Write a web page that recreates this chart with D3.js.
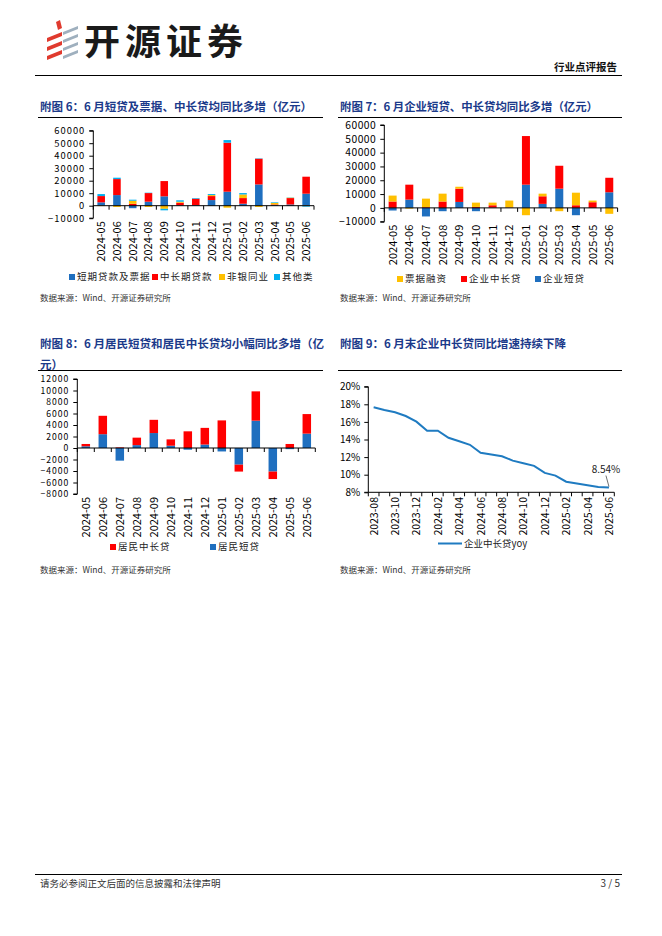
<!DOCTYPE html>
<html>
<head>
<meta charset="utf-8">
<script src="https://cdn.jsdelivr.net/npm/d3@7"></script>
<style>
body { margin: 0; background: #fff; }
text { font-family: "Noto Sans CJK SC", sans-serif; }
</style>
</head>
<body>
<script>
// months for the three bar charts
var months = ["2024-05","2024-06","2024-07","2024-08","2024-09","2024-10","2024-11","2024-12","2025-01","2025-02","2025-03","2025-04","2025-05","2025-06"];

// fig 6 (亿元)
var shortBill = [2700, 8500, -2000, 3200, 7500, 300, 500, 4500, 11200, 1600, 17000, 500, 1000, 9600];
var midLong = [5000, 12800, 1500, 6900, 12200, 2100, 5100, 3200, 39200, 4500, 20600, 500, 5100, 13600];
var nonBank = [-300, -1000, 2500, -1000, -2500, 800, 0, 800, -1600, 2900, -1000, 1200, 300, -300];
var others = [1600, 1100, 800, 300, -1200, 1100, 500, 800, 2100, 1100, 300, 500, 200, -500];

// fig 7
var corpShort = [-1900, 6000, -6200, -2400, 4300, -2400, 200, 100, 16800, 2900, 13900, -5300, -100, 11300];
var corpMid = [4600, 10800, 500, 4600, 9600, 700, 1700, 200, 35200, 5500, 16600, 1900, 4100, 10500];
var billFin = [4300, -500, 6200, 5700, 1400, 3100, 1900, 5000, -5300, 1900, -2400, 9100, 1200, -4300];

// fig 8
var hhShort = [300, 2400, -2200, 500, 2600, 400, -300, 600, -600, -2900, 4750, -4100, -200, 2500];
var hhMid = [400, 3200, 100, 1300, 2300, 1100, 2900, 2900, 4800, -1200, 5100, -1300, 700, 3400];

// fig 9
var yoyMonths = ["2023-08","2023-09","2023-10","2023-11","2023-12","2024-01","2024-02","2024-03","2024-04","2024-05","2024-06","2024-07","2024-08","2024-09","2024-10","2024-11","2024-12","2025-01","2025-02","2025-03","2025-04","2025-05","2025-06"];
var corpMidYoy = [17.66, 17.36, 17.09, 16.67, 16.03, 15.0, 15.0, 14.2, 13.8, 13.4, 12.5, 12.3, 12.1, 11.6, 11.3, 11.0, 10.2, 9.9, 9.2, 9.0, 8.8, 8.6, 8.54];

var BLUE = "#1F6FBF", RED = "#FF0000", YELLOW = "#FFC000", LBLUE = "#00B0F0";
var TITLE = "#1B3A8A";
var NUM = "Liberation Serif, Times New Roman, serif";

var svg = d3.select("body").append("svg")
    .attr("width", 662)
    .attr("height", 936);

svg.append("rect").attr("width", 662).attr("height", 936).attr("fill", "#fff");

// ---- header ----
var logo = svg.append("g");
[[47,34],[47,43],[47,52]].forEach(function(p){
  logo.append("path")
    .attr("d", "M"+p[0]+","+(p[1]+4)+" L"+(p[0]+15)+","+(p[1]-2)+" L"+(p[0]+15)+","+(p[1]+2)+" L"+p[0]+","+(p[1]+8)+"Z")
    .attr("fill", "#E03A2E");
});
logo.append("path").attr("d","M56,22 L60,20 L62,28 L58,30Z").attr("fill","#E03A2E");
[[63,28],[63,36],[63,44],[63,52]].forEach(function(p){
  logo.append("path")
    .attr("d", "M"+p[0]+","+(p[1]+4)+" L"+(p[0]+15)+","+(p[1]-2)+" L"+(p[0]+15)+","+(p[1]+1)+" L"+p[0]+","+(p[1]+7)+"Z")
    .attr("fill", "#9FB0BE");
});
svg.append("text")
    .attr("x", 84).attr("y", 55)
    .attr("font-size", 36).attr("font-weight", "bold")
    .attr("textLength", 159).attr("lengthAdjust", "spacing")
    .attr("fill", "#1a1a1a")
    .text("开源证券");
svg.append("text")
    .attr("x", 617).attr("y", 71)
    .attr("text-anchor", "end")
    .attr("font-size", 10.5).attr("font-weight", "bold")
    .attr("fill", "#111")
    .text("行业点评报告");
svg.append("line").attr("x1", 35).attr("x2", 622).attr("y1", 75.5).attr("y2", 75.5)
    .attr("stroke", "#000").attr("stroke-width", 1);

// ---- footer ----
svg.append("line").attr("x1", 35).attr("x2", 622).attr("y1", 874.5).attr("y2", 874.5)
    .attr("stroke", "#000").attr("stroke-width", 1);
svg.append("text").attr("x", 40).attr("y", 887).attr("font-size", 9.5).attr("fill", "#333")
    .text("请务必参阅正文后面的信息披露和法律声明");
svg.append("text").attr("x", 620).attr("y", 887).attr("text-anchor", "end")
    .attr("font-size", 10).attr("font-family", NUM).attr("fill", "#333")
    .text("3 / 5");

function title(lines, x, y, lineY, x2) {
  lines.forEach(function(t, i){
    var tx = svg.append("text")
      .attr("x", x).attr("y", y + i * 21)
      .attr("font-size", 11.5).attr("font-weight", "bold")
      .attr("fill", TITLE)
      .text(t[0]);
    if (t[1]) tx.attr("textLength", t[1]).attr("lengthAdjust", "spacingAndGlyphs");
  });
  svg.append("line").attr("x1", x - 2).attr("x2", x2).attr("y1", lineY).attr("y2", lineY)
    .attr("stroke", "#000").attr("stroke-width", 1.2);
}

function source(x, y) {
  svg.append("text").attr("x", x).attr("y", y)
    .attr("font-size", 8.5).attr("fill", "#333")
    .text("数据来源：Wind、开源证券研究所");
}

function legend(items, y) {
  items.forEach(function(it){
    svg.append("rect").attr("x", it.x).attr("y", y - 6).attr("width", 6).attr("height", 6).attr("fill", it.color);
    svg.append("text").attr("x", it.x + 8).attr("y", y).attr("font-size", 9.5)
      .attr("letter-spacing", 1).attr("fill", "#222").text(it.name);
  });
}

function barChart(opt) {
  var x = d3.scaleBand().domain(months).range([opt.x0, opt.x1]).paddingInner(opt.pad).paddingOuter(opt.pad / 2);
  var y = d3.scaleLinear().domain(opt.domain).range([opt.yb, opt.yt]);
  var rows = months.map(function(m, i){
    var r = {month: m};
    opt.series.forEach(function(s){ r[s.key] = s.values[i]; });
    return r;
  });
  var stack = d3.stack().keys(opt.series.map(function(s){ return s.key; }))
    .offset(d3.stackOffsetDiverging);
  var layers = stack(rows);
  var g = svg.append("g");
  g.selectAll("g.layer").data(layers).enter().append("g")
    .attr("fill", function(d, i){ return opt.series[i].color; })
    .selectAll("rect").data(function(d){ return d; }).enter().append("rect")
    .attr("x", function(d){ return x(d.data.month); })
    .attr("width", x.bandwidth())
    .attr("y", function(d){ return y(Math.max(d[0], d[1])); })
    .attr("height", function(d){ return Math.abs(y(d[0]) - y(d[1])); });

  // y axis
  var ya = g.append("g").attr("transform", "translate(" + opt.x0 + ",0)")
    .call(d3.axisLeft(y).tickValues(opt.ticks).tickSize(4).tickFormat(d3.format("d")));
  ya.select(".domain").attr("stroke", "#000").attr("d", "M-4," + opt.yt + "H0V" + opt.yb + "H-4");
  ya.selectAll("line").attr("stroke", "#000");
  ya.selectAll("text").attr("font-family", NUM).attr("font-size", opt.tickSize || 10.5).attr("fill", "#000")
    .attr("letter-spacing", opt.tickSpace || 0).attr("dx", -1);

  // zero line with ticks at band edges
  var y0 = y(0);
  g.append("line").attr("x1", opt.x0).attr("x2", opt.x1).attr("y1", y0).attr("y2", y0).attr("stroke", "#000");
  var step = x.step();
  d3.range(months.length + 1).forEach(function(i){
    var xx = opt.x0 + i * step;
    g.append("line").attr("x1", xx).attr("x2", xx).attr("y1", y0).attr("y2", y0 + 4).attr("stroke", "#000");
  });

  // month labels
  g.selectAll("text.mlab").data(months).enter().append("text")
    .attr("class", "mlab")
    .attr("transform", function(d){ return "translate(" + (x(d) + x.bandwidth() / 2 + 4) + "," + (opt.yb + 3) + ") rotate(-90)"; })
    .attr("text-anchor", "end")
    .attr("font-family", NUM).attr("font-size", 11).attr("fill", "#000")
    .text(function(d){ return d; });
}

// ---- fig 6 ----
title([["附图 6：6 月短贷及票据、中长贷均同比多增（亿元）", 272]], 40, 111, 117.5, 323);
barChart({
  x0: 93.3, x1: 314, yt: 130.7, yb: 218.2, domain: [-10000, 60000], pad: 0.52,
  tickSize: 9.4, tickSpace: 1,
  ticks: [-10000, 0, 10000, 20000, 30000, 40000, 50000, 60000],
  series: [
    {key: "s", values: shortBill, color: BLUE},
    {key: "m", values: midLong, color: RED},
    {key: "n", values: nonBank, color: YELLOW},
    {key: "o", values: others, color: LBLUE}
  ]
});
legend([
  {x: 69, name: "短期贷款及票据", color: BLUE},
  {x: 152, name: "中长期贷款", color: RED},
  {x: 219, name: "非银同业", color: YELLOW},
  {x: 274, name: "其他类", color: LBLUE}
], 280);
source(40, 301);

// ---- fig 7 ----
title([["附图 7：6 月企业短贷、中长贷均同比多增（亿元）", 258]], 340, 111, 117.5, 622);
barChart({
  x0: 384.3, x1: 617.6, yt: 125, yb: 221.7, domain: [-10000, 60000], pad: 0.52,
  tickSize: 10.3, tickSpace: 0.5,
  ticks: [-10000, 0, 10000, 20000, 30000, 40000, 50000, 60000],
  series: [
    {key: "s", values: corpShort, color: BLUE},
    {key: "m", values: corpMid, color: RED},
    {key: "b", values: billFin, color: YELLOW}
  ]
});
legend([
  {x: 397, name: "票据融资", color: YELLOW},
  {x: 461, name: "企业中长贷", color: RED},
  {x: 535, name: "企业短贷", color: BLUE}
], 282);
source(340, 301);

// ---- fig 8 ----
title([["附图 8：6 月居民短贷和居民中长贷均小幅同比多增（亿", 284], ["元）"]], 40, 348, 370.5, 323);
barChart({
  x0: 77.3, x1: 315.3, yt: 379, yb: 494, domain: [-8000, 12000], pad: 0.5,
  tickSize: 8.6, tickSpace: 1,
  ticks: d3.range(-8000, 12001, 2000),
  series: [
    {key: "s", values: hhShort, color: BLUE},
    {key: "m", values: hhMid, color: RED}
  ]
});
legend([
  {x: 110, name: "居民中长贷", color: RED},
  {x: 210, name: "居民短贷", color: BLUE}
], 550);
source(40, 573);

// ---- fig 9 ----
title([["附图 9：6 月末企业中长贷同比增速持续下降", 226]], 340, 348, 370.5, 622);
(function(){
  var x = d3.scaleBand().domain(yoyMonths).range([368.3, 614.3]);
  var y = d3.scaleLinear().domain([8, 20]).range([492.3, 386.7]);
  var g = svg.append("g");
  var ya = g.append("g").attr("transform", "translate(368.3,0)")
    .call(d3.axisLeft(y).tickValues([8, 10, 12, 14, 16, 18, 20]).tickSize(4).tickFormat(function(d){ return d + "%"; }));
  ya.select(".domain").attr("d", "M-4,386.7H0V492.3H-4");
  ya.selectAll("text").attr("font-family", NUM).attr("font-size", 10).attr("fill", "#000").attr("dx", -1);
  var xa = g.append("g").attr("transform", "translate(0,492.3)")
    .call(d3.axisBottom(x).tickSize(0).tickFormat(""));
  xa.select(".domain").attr("d", "M368.3,0H614.3");
  d3.range(yoyMonths.length + 1).forEach(function(i){
    var xx = 368.3 + i * x.step();
    g.append("line").attr("x1", xx).attr("x2", xx).attr("y1", 492.3).attr("y2", 496.3).attr("stroke", "#000");
  });
  g.selectAll("text.mlab").data(yoyMonths.filter(function(d, i){ return i % 2 === 0; })).enter().append("text")
    .attr("transform", function(d){ return "translate(" + (x(d) + x.bandwidth() / 2 + 4) + ",497) rotate(-90)"; })
    .attr("text-anchor", "end")
    .attr("font-family", NUM).attr("font-size", 10.5).attr("fill", "#000")
    .text(function(d){ return d; });

  var line = d3.line()
    .x(function(d, i){ return x(yoyMonths[i]) + x.bandwidth() / 2; })
    .y(function(d){ return y(d); });
  g.append("path").datum(corpMidYoy).attr("d", line)
    .attr("fill", "none").attr("stroke", "#1F7BC1").attr("stroke-width", 2);

  var lastX = x(yoyMonths[yoyMonths.length - 1]) + x.bandwidth() / 2;
  var lastY = y(corpMidYoy[corpMidYoy.length - 1]);
  g.append("line").attr("x1", lastX - 3).attr("y1", lastY - 12).attr("x2", lastX).attr("y2", lastY - 1)
    .attr("stroke", "#333").attr("stroke-width", 0.7);
  g.append("text").attr("x", lastX - 3).attr("y", lastY - 15).attr("text-anchor", "middle")
    .attr("font-family", "Liberation Sans, Arial, sans-serif").attr("font-size", 10).attr("fill", "#222")
    .text(corpMidYoy[corpMidYoy.length - 1].toFixed(2) + "%");

  g.append("line").attr("x1", 438).attr("x2", 462).attr("y1", 543.5).attr("y2", 543.5)
    .attr("stroke", "#1F7BC1").attr("stroke-width", 2);
  g.append("text").attr("x", 464).attr("y", 547).attr("font-size", 9.5).attr("fill", "#222")
    .text("企业中长贷yoy");
})();
source(340, 573);
</script>
</body>
</html>
